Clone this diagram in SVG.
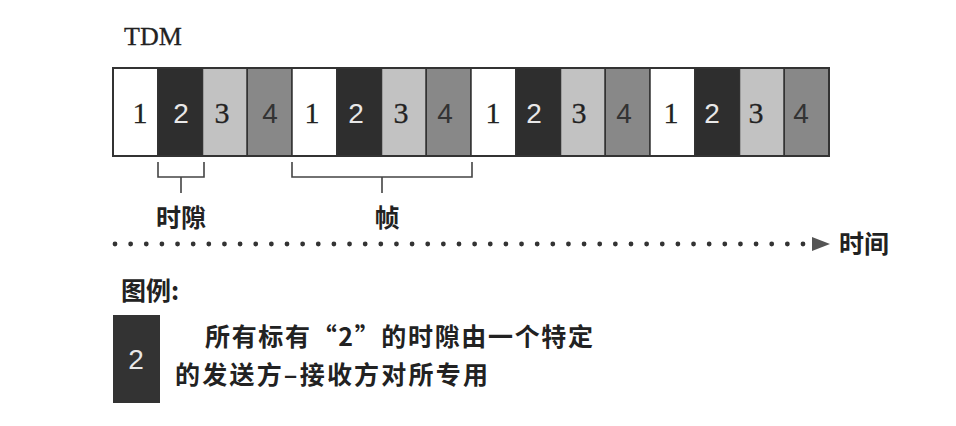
<svg xmlns="http://www.w3.org/2000/svg" width="956" height="426" viewBox="0 0 956 426">
<style>
.s1{fill:#ffffff}
.s2{fill:#2e2e2e}
.s3{fill:#c2c2c2}
.s4{fill:#888888}
.slot{stroke:#333;stroke-width:1.5}
.ns{font-family:"Liberation Serif",serif;font-size:30px;text-anchor:middle;fill:#222;stroke:#222;stroke-width:0.3}
.na{font-family:"Liberation Sans",sans-serif;font-size:28px;text-anchor:middle}
.cn{font-family:"Noto Sans CJK SC",sans-serif;font-size:25px;font-weight:bold;fill:#222}
.br{fill:none;stroke:#444;stroke-width:1.6}
</style>
<rect width="956" height="426" fill="#fff"/>
<text x="124" y="45" font-family="Liberation Serif, serif" font-size="26" fill="#222" stroke="#222" stroke-width="0.3">TDM</text>
<g id="bar">
<g id="slot1a"><rect class="slot s1" x="113" y="68" width="44.75" height="88"/><text class="ns" x="140" y="123">1</text></g>
<g id="slot2a"><rect class="slot s2" x="157.75" y="68" width="44.75" height="88"/><text class="na" x="181" y="123" fill="#e8e8e8">2</text></g>
<g id="slot3a"><rect class="slot s3" x="202.5" y="68" width="44.75" height="88"/><text class="ns" x="222" y="123">3</text></g>
<g id="slot4a"><rect class="slot s4" x="247.25" y="68" width="44.75" height="88"/><text class="na" x="270" y="123" fill="#333">4</text></g>
<g id="slot1b"><rect class="slot s1" x="292" y="68" width="44.75" height="88"/><text class="ns" x="312" y="123">1</text></g>
<g id="slot2b"><rect class="slot s2" x="336.75" y="68" width="44.75" height="88"/><text class="na" x="356" y="123" fill="#e8e8e8">2</text></g>
<g id="slot3b"><rect class="slot s3" x="381.5" y="68" width="44.75" height="88"/><text class="ns" x="401" y="123">3</text></g>
<g id="slot4b"><rect class="slot s4" x="426.25" y="68" width="44.75" height="88"/><text class="na" x="445" y="123" fill="#333">4</text></g>
<g id="slot1c"><rect class="slot s1" x="471" y="68" width="44.75" height="88"/><text class="ns" x="493" y="123">1</text></g>
<g id="slot2c"><rect class="slot s2" x="515.75" y="68" width="44.75" height="88"/><text class="na" x="534" y="123" fill="#e8e8e8">2</text></g>
<g id="slot3c"><rect class="slot s3" x="560.5" y="68" width="44.75" height="88"/><text class="ns" x="579" y="123">3</text></g>
<g id="slot4c"><rect class="slot s4" x="605.25" y="68" width="44.75" height="88"/><text class="na" x="624" y="123" fill="#333">4</text></g>
<g id="slot1d"><rect class="slot s1" x="650" y="68" width="44.75" height="88"/><text class="ns" x="671" y="123">1</text></g>
<g id="slot2d"><rect class="slot s2" x="694.75" y="68" width="44.75" height="88"/><text class="na" x="712" y="123" fill="#e8e8e8">2</text></g>
<g id="slot3d"><rect class="slot s3" x="739.5" y="68" width="44.75" height="88"/><text class="ns" x="756" y="123">3</text></g>
<g id="slot4d"><rect class="slot s4" x="784.25" y="68" width="44.75" height="88"/><text class="na" x="801" y="123" fill="#333">4</text></g>
<rect x="113" y="68" width="716" height="88" fill="none" stroke="#333" stroke-width="2"/>
</g>
<g id="connectors">
<path class="br" d="M158,162 V177 H204 V162 M181,177 V193"/>
<path class="br" d="M292,162 V177 H472 V162 M382,177 V193"/>
<line x1="115" y1="244" x2="803" y2="244" stroke="#333" stroke-width="4.8" stroke-linecap="round" stroke-dasharray="0 15.636"/>
<polygon points="812,237 830,244 812,251" fill="#555"/>
</g>
<g id="label-slot"><text class="cn" x="181" y="227" text-anchor="middle">时隙</text></g>
<g id="label-frame"><text class="cn" x="387" y="227" text-anchor="middle">帧</text></g>
<g id="label-time"><text class="cn" x="839" y="253">时间</text></g>
<g id="legend">
<text class="cn" x="121" y="300">图例:</text>
<rect x="113" y="315" width="47" height="88" fill="#333"/>
<text class="na" x="136" y="369" fill="#e8e8e8">2</text>
<text class="cn" x="205" y="346" textLength="388" lengthAdjust="spacing">所有标有“2”的时隙由一个特定</text>
<text class="cn" x="175" y="384" textLength="313" lengthAdjust="spacing">的发送方–接收方对所专用</text>
</g>
</svg>
